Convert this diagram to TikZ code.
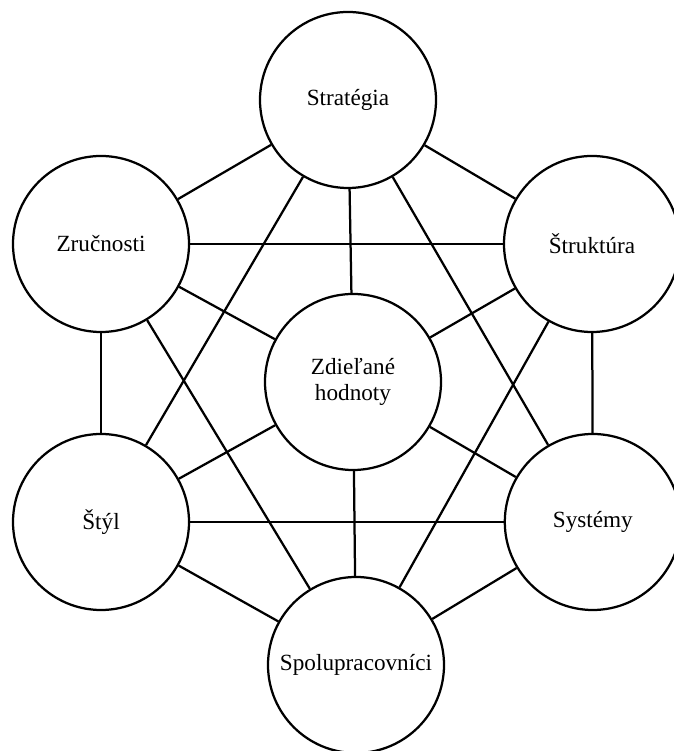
\documentclass[tikz,border=0pt]{standalone}
\usepackage{fontspec}
\setmainfont{Liberation Serif}

\begin{document}
\begin{tikzpicture}
    % 定义样式
    % ring: 七个圆圈, 直径 4.4cm
    % link: 圆圈之间的连线
    \tikzset{
        ring/.style={circle, draw, line width=1.6pt, minimum size=4.4cm,
            inner sep=0pt, align=center, font=\fontsize{16.5}{19}\selectfont},
        link/.style={line width=1.6pt}
    }

    % 画布大小: 16.825cm x 18.775cm
    \useasboundingbox (0,0) rectangle (16.825,18.775);

    \node[ring] (strat) at (8.70,16.275)  {Stratégia};
    \node[ring] (zruc)  at (2.525,12.675) {Zručnosti};
    \node[ring] (strk)  at (14.80,12.675) {Štruktúra};
    \node[ring] (hodn)  at (8.825,9.225)  {Zdieľané\\hodnoty};
    \node[ring] (styl)  at (2.525,5.725)  {Štýl};
    \node[ring] (syst)  at (14.82,5.725)  {Systémy};
    \node[ring] (spol)  at (8.90,2.15)    {Spolupracovníci};

    % 连线 (被中间圆圈挡住的三条不画)
    \foreach \a/\b in {strat/zruc, strat/strk, strat/hodn, strat/styl, strat/syst,
                       zruc/strk, zruc/hodn, zruc/styl, zruc/spol,
                       strk/hodn, strk/syst, strk/spol,
                       hodn/styl, hodn/syst, hodn/spol,
                       styl/syst, styl/spol, syst/spol}
        \draw[link] (\a) -- (\b);
\end{tikzpicture}
\end{document}
